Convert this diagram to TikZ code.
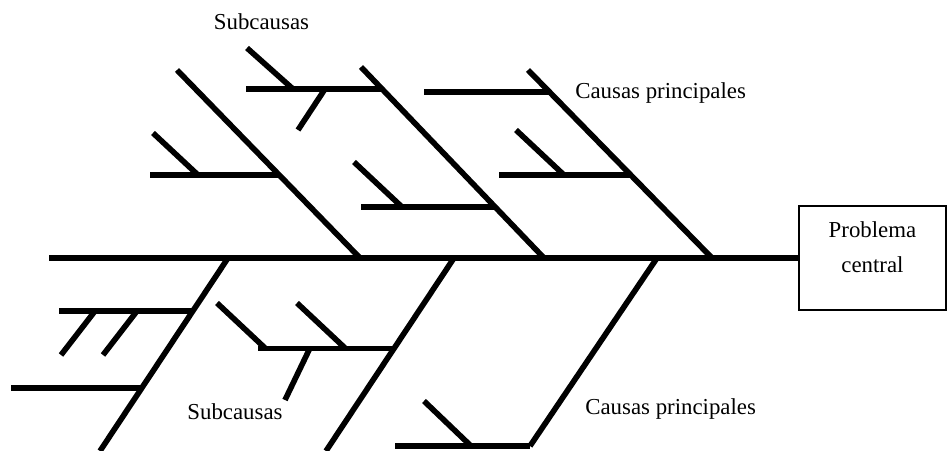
\documentclass[tikz,border=0pt]{standalone}
\usepackage{fontspec}
\setmainfont{Liberation Serif}
\usetikzlibrary{positioning, calc}

\begin{document}
\begin{tikzpicture}[x=0.02cm, y=-0.02cm,
  bone/.style={line width=3.2pt},
  spine/.style={line width=3.6pt},
  lbl/.style={font=\fontsize{13}{20}\selectfont, inner sep=0pt},
  probbox/.style={draw, line width=0.7pt, minimum width=2.94cm, minimum height=2.08cm, inner sep=0pt}]
  \useasboundingbox (0,0) rectangle (947,450);
  % Problem box
  \node[probbox] (prob) at (872.5,258) {};
  \node[lbl, align=center, anchor=north] (probtxt) at (872.5,221) {Problema\\central};
  % Spine
  \coordinate (tail) at (49,258);
  \draw[spine] (tail) -- (prob.west);
  % Main bones (upper and lower)
  \coordinate (a1) at (177,70);  \coordinate (a2) at (360,258);
  \coordinate (b1) at (361,67);  \coordinate (b2) at (544,258);
  \coordinate (c1) at (528,70);  \coordinate (c2) at (712,258);
  \coordinate (d1) at (228,258); \coordinate (d2) at (100,451);
  \coordinate (e1) at (454,258); \coordinate (e2) at (326,451);
  \coordinate (f1) at (657,258); \coordinate (f2) at (530,446);
  \foreach \s in {a,b,c,d,e,f}
    \draw[bone] (\s1) -- (\s2);
  % Sub causes on the bones
  \foreach \p/\q/\t/\len [count=\i] in {a1/a2/0.5585/129, b1/b2/0.115/136, b1/b2/0.733/134,
      c1/c2/0.117/126, c1/c2/0.5585/132, d1/d2/0.276/134, d1/d2/0.672/131,
      e1/e2/0.469/136, f1/f2/1/135}
    \draw[bone] ($(\p)!\t!(\q)$) -- ++(-\len,0) coordinate (sub\i);
  % Small branches
  \foreach \x/\y/\dx/\dy in {198/175/-45/-42, 293/89/-46/-41, 325/89/-27/41,
      402/207/-48/-45, 564/175/-48/-45, 95/311/-34/44, 137/311/-34/44,
      265/348/-48/-45, 345/348/-48/-45, 310/348/-25/52, 471/446/-47/-45}
    \draw[bone] (\x,\y) -- ++(\dx,\dy);
  % Labels
  \node[lbl, anchor=base] (subtop) at (261.5,29) {Subcausas};
  \node[lbl, anchor=base west] (caustop) at (575,98) {Causas principales};
  \node[lbl, anchor=base] (subbot) at (235,419) {Subcausas};
  \node[lbl, anchor=base west] (causbot) at (585,414) {Causas principales};
\end{tikzpicture}
\end{document}
